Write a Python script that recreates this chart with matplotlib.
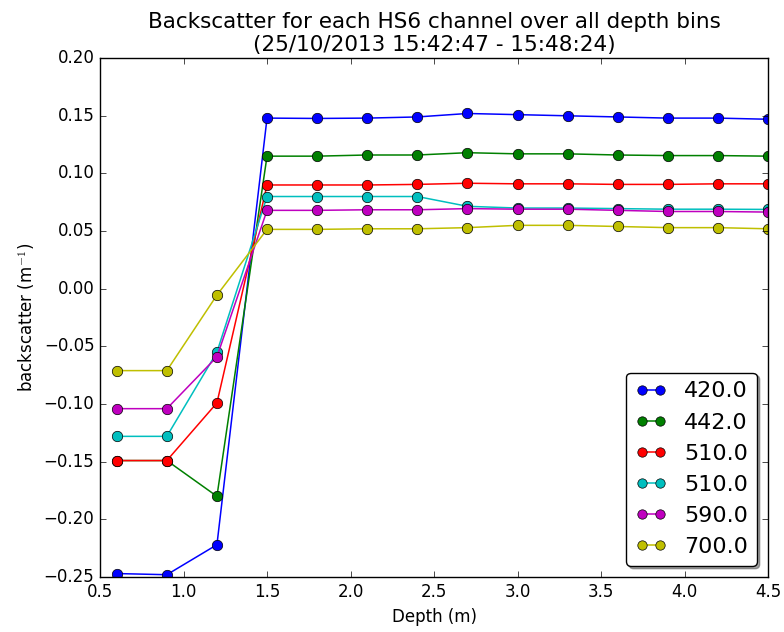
import matplotlib
matplotlib.use("Agg")
import matplotlib.pyplot as plt

plt.style.use("classic")

depth = [0.6, 0.9, 1.2, 1.5, 1.8, 2.1, 2.4, 2.7, 3.0, 3.3, 3.6, 3.9, 4.2, 4.5]

bs_420 = [-0.247, -0.248, -0.222, 0.148, 0.1477, 0.148, 0.149, 0.152, 0.151, 0.150, 0.149, 0.148, 0.148, 0.147]
bs_442 = [-0.149, -0.149, -0.180, 0.115, 0.115, 0.116, 0.116, 0.118, 0.117, 0.117, 0.116, 0.1155, 0.1155, 0.115]
bs_510a = [-0.149, -0.149, -0.099, 0.090, 0.090, 0.090, 0.0905, 0.0915, 0.091, 0.091, 0.0905, 0.0905, 0.091, 0.091]
bs_510b = [-0.128, -0.128, -0.055, 0.080, 0.080, 0.080, 0.080, 0.0715, 0.070, 0.070, 0.0695, 0.069, 0.069, 0.0688]
bs_590 = [-0.104, -0.104, -0.059, 0.068, 0.068, 0.0685, 0.0685, 0.0695, 0.069, 0.069, 0.068, 0.067, 0.067, 0.0665]
bs_700 = [-0.071, -0.071, -0.0055, 0.0515, 0.0515, 0.052, 0.052, 0.053, 0.055, 0.055, 0.054, 0.053, 0.053, 0.052]

labels = ["420.0", "442.0", "510.0", "510.0", "590.0", "700.0"]
series = [bs_420, bs_442, bs_510a, bs_510b, bs_590, bs_700]
colors = ["b", "g", "r", "c", "m", "y"]

fig = plt.figure(figsize=(7.84, 6.32), dpi=100, facecolor="white")
ax = fig.add_axes([0.1276, 0.087, 0.852, 0.821])

for vals, lab, col in zip(series, labels, colors):
    ax.plot(depth, vals, "-o", color=col, label=lab, markersize=7.5, linewidth=1.1)

ax.set_xlim(0.5, 4.5)
ax.set_ylim(-0.25, 0.20)
ax.set_xlabel("Depth (m)", fontsize=12)
ax.set_ylabel("backscatter (m$^{-1}$)", fontsize=12)
ax.set_title("Backscatter for each HS6 channel over all depth bins\n(25/10/2013 15:42:47 - 15:48:24)",
             fontsize=15.5)
ax.tick_params(labelsize=12)

ax.legend(loc="lower right", fontsize=16, shadow=True, fancybox=True, numpoints=2,
          handlelength=1.4, markerscale=0.9)

fig.savefig("out.png", dpi=100, facecolor="white")
